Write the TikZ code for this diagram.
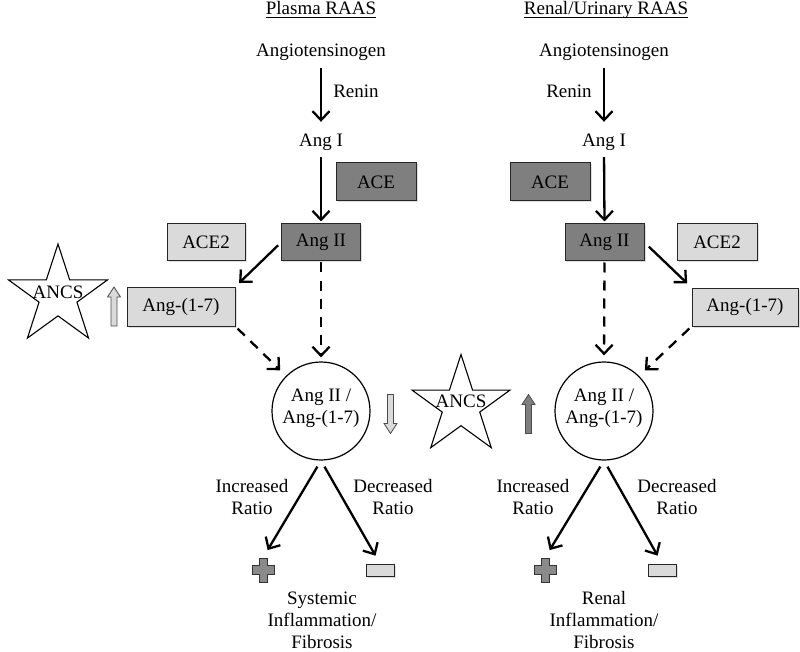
\documentclass[tikz,border=0pt]{standalone}
\usepackage{fontspec}
\setmainfont{Liberation Serif}
\usetikzlibrary{arrows.meta,shadows}
\definecolor{darkbox}{HTML}{7F7F7F}
\definecolor{lightbox}{HTML}{DADADA}
\definecolor{plusgray}{HTML}{8A8A8A}
\begin{document}
\begin{tikzpicture}[x=1pt,y=-1pt,
  font=\fontsize{19}{22}\selectfont,
  txt/.style={inner sep=0pt, text height=13pt, text depth=4pt},
  multi/.style={inner sep=0pt, align=center},
  box/.style={rectangle, draw=black!85, line width=1pt, inner sep=0pt,
    drop shadow={opacity=0.25, shadow xshift=1.5pt, shadow yshift=-1.5pt}},
  darkb/.style={box, fill=darkbox, minimum width=80pt, minimum height=38pt},
  lightb/.style={box, fill=lightbox, minimum width=79pt, minimum height=37pt},
  circ/.style={circle, draw=black, line width=1.2pt, fill=white, minimum size=98pt, inner sep=0pt},
  arr/.style={line width=2.3pt, -{Straight Barb[length=9pt,width=17pt]}},
  darr/.style={arr, dash pattern=on 10pt off 8pt},
  uline/.style={line width=0.9pt},
  starline/.style={draw=black, line width=1.1pt, fill=white},
  hollowv/.pic={\filldraw[fill=#1, draw=black!70, line width=0.8pt]
     (0,-19.5) -- (6.5,-9.5) -- (3,-9.5) -- (3,19.5) -- (-3,19.5) -- (-3,-9.5) -- (-6.5,-9.5) -- cycle;},
  plussign/.pic={\filldraw[fill=plusgray, draw=black!80, line width=1pt]
     (-4,-12) -- (4,-12) -- (4,-4.5) -- (11,-4.5) -- (11,4.5) -- (4,4.5) -- (4,12) -- (-4,12)
     -- (-4,4.5) -- (-11,4.5) -- (-11,-4.5) -- (-4,-4.5) -- cycle;}
]
\useasboundingbox (0,0) rectangle (800,652);

% ---------------- Plasma RAAS ----------------
\node[txt, anchor=base] (h1) at (321,15) {Plasma RAAS};
\draw[uline] ([yshift=-2.2pt]h1.base west) -- ([yshift=-2.2pt]h1.base east);
\node[txt, anchor=base] (ag1) at (321,57) {Angiotensinogen};
\node[txt, anchor=base] (ren1) at (356,98) {Renin};
\node[txt, anchor=base] (ai1) at (321,147) {Ang I};
\node[darkb] (ace1) at (376,182) {ACE};
\node[darkb, minimum width=79pt, minimum height=37pt] (aii1) at (321,242.5) {Ang II};
\node[lightb, minimum width=78pt] (ace21) at (206,242.5) {ACE2};
\node[lightb, minimum width=108pt, minimum height=39pt] (a17l) at (181,306.5) {Ang-(1-7)};
\node[circ] (c1) at (321,411) {};
\node[multi] (c1t) at (321,408) {Ang II /\\Ang-(1-7)};
\node[multi] (inc1) at (252,497) {Increased\\Ratio};
\node[multi] (dec1) at (393,497) {Decreased\\Ratio};
\node[inner sep=0pt, minimum width=22pt, minimum height=24pt] (plus1) at (263,570) {};
\pic at (plus1) {plussign};
\node[box, fill=lightbox, minimum width=28pt, minimum height=12pt] (min1) at (380,570) {};
\node[multi] (out1) at (322,620) {Systemic\\Inflammation/\\Fibrosis};

% star left
\begin{scope}[shift={(58,296)}]
\draw[starline] (-90:52) \foreach \k in {1,...,9}{ -- ({-90+36*\k}:{mod(\k,2)==0 ? 52 : 19.9}) } -- cycle;
\end{scope}
\node[txt] (ancs1) at (58,294) {ANCS};
\pic at (114,306.5) {hollowv=lightbox};
\pic[rotate=180] at (390.5,414) {hollowv=lightbox};

\draw[arr, shorten <=7pt, shorten >=12pt] (ag1.south) -- (ai1.north);
\draw[arr, shorten <=6pt, shorten >=2pt] (ai1.south) -- (aii1.north);
\draw[arr, shorten <=4pt, shorten >=5pt] (aii1.west) -- (a17l.north east);
\draw[darr, shorten <=1pt, shorten >=4pt] (aii1.south) -- (c1.north);
\draw[darr, shorten <=3pt, shorten >=8pt] (a17l.south east) -- (c1.135);
\draw[arr, shorten <=7pt, shorten >=9pt] (c1.south) -- (plus1.north);
\draw[arr, shorten <=7pt, shorten >=9pt] (c1.south) -- (min1.north);

% ---------------- Renal/Urinary RAAS ----------------
\node[txt, anchor=base] (h2) at (606,15) {Renal/Urinary RAAS};
\draw[uline] ([yshift=-2.2pt]h2.base west) -- ([yshift=-2.2pt]h2.base east);
\node[txt, anchor=base] (ag2) at (604,57) {Angiotensinogen};
\node[txt, anchor=base] (ren2) at (569,98) {Renin};
\node[txt, anchor=base] (ai2) at (604,147) {Ang I};
\node[darkb] (ace2) at (550,182) {ACE};
\node[darkb, minimum width=79pt, minimum height=37pt] (aii2) at (604.5,242.5) {Ang II};
\node[lightb, minimum width=80pt] (ace22) at (717,242.5) {ACE2};
\node[lightb, minimum width=106pt, minimum height=38pt] (a17r) at (745,307) {Ang-(1-7)};
\node[circ] (c2) at (604,411) {};
\node[multi] (c2t) at (604,408) {Ang II /\\Ang-(1-7)};
\node[multi] (inc2) at (533,497) {Increased\\Ratio};
\node[multi] (dec2) at (677,497) {Decreased\\Ratio};
\node[inner sep=0pt, minimum width=22pt, minimum height=24pt] (plus2) at (545,570) {};
\pic at (plus2) {plussign};
\node[box, fill=lightbox, minimum width=28pt, minimum height=12pt] (min2) at (662,570) {};
\node[multi] (out2) at (604,620) {Renal\\Inflammation/\\Fibrosis};

% star right
\begin{scope}[shift={(461,406)}]
\draw[starline] (-90:51.5) \foreach \k in {1,...,9}{ -- ({-90+36*\k}:{mod(\k,2)==0 ? 51.5 : 19.7}) } -- cycle;
\end{scope}
\node[txt] (ancs2) at (461,402.5) {ANCS};
\pic at (528.5,414) {hollowv=darkbox};

\draw[arr, shorten <=7pt, shorten >=12pt] (ag2.south) -- (ai2.north);
\draw[arr, shorten <=6pt, shorten >=2pt] (ai2.south) -- (aii2.north);
\draw[arr, shorten <=6pt, shorten >=6pt] (aii2.east) -- (a17r.north west);
\draw[darr, shorten <=1pt, shorten >=6pt] (aii2.south) -- (c2.north);
\draw[darr, shorten <=3pt, shorten >=8pt] (a17r.south west) -- (c2.45);
\draw[arr, shorten <=7pt, shorten >=9pt] (c2.south) -- (plus2.north);
\draw[arr, shorten <=7pt, shorten >=9pt] (c2.south) -- (min2.north);
\end{tikzpicture}
\end{document}
